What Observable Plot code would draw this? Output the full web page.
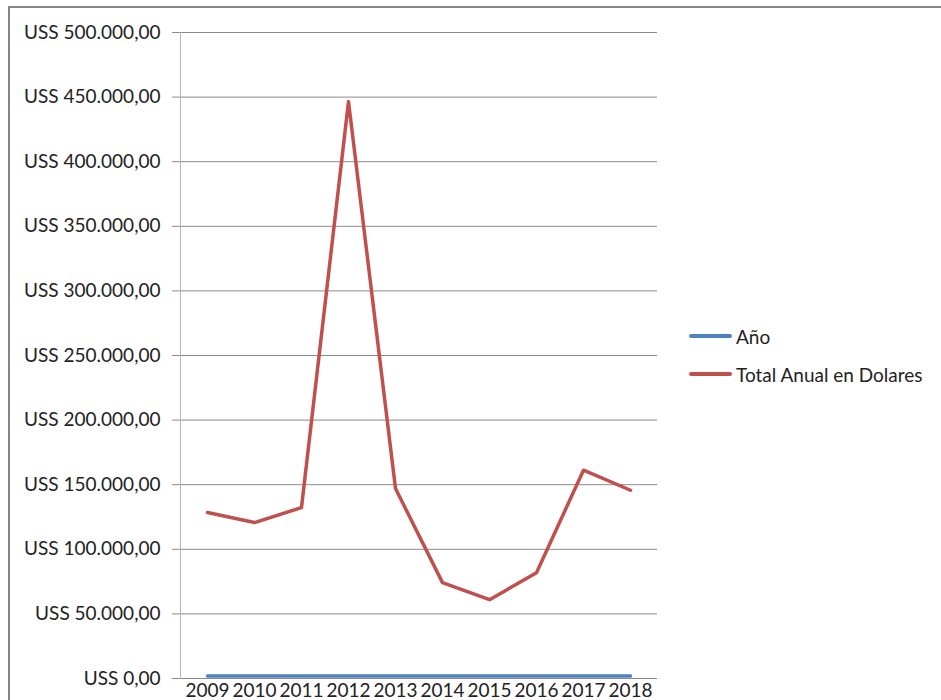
<!DOCTYPE html>
<html>
<head>
<meta charset="utf-8">
<script src="https://cdn.jsdelivr.net/npm/d3@7"></script>
<script src="https://cdn.jsdelivr.net/npm/@observablehq/plot@0.6"></script>
<style>
  html, body { margin: 0; padding: 0; background: #fff; width: 941px; height: 700px; overflow: hidden; }
  #wrap { position: relative; width: 941px; height: 700px; font-family: Lato, "Open Sans", sans-serif; }
  #border { position: absolute; left: 8px; top: 6px; width: 1200px; height: 1200px; border: 2px solid #868686; box-sizing: border-box; pointer-events: none; }
  #chart { position: absolute; left: 0; top: 0; }
  #legend { position: absolute; left: 689px; top: 322px; font-size: 19px; color: #222; }
  .item { display: flex; align-items: center; height: 28px; margin-bottom: 10px; }
  .sw { width: 43px; height: 4px; border-radius: 2px; margin-right: 4px; }
</style>
</head>
<body>
<div id="wrap">
  <div id="chart"></div>
  <div id="legend"></div>
  <div id="border"></div>
</div>
<script>
const years = ["2009","2010","2011","2012","2013","2014","2015","2016","2017","2018"];
const anio = [2009, 2010, 2011, 2012, 2013, 2014, 2015, 2016, 2017, 2018];
const total = [128450, 120700, 132300, 446500, 147050, 74200, 61000, 81900, 161200, 145700];
const yTicks = [0, 50000, 100000, 150000, 200000, 250000, 300000, 350000, 400000, 450000, 500000];
const seriesNames = ["Año", "Total Anual en Dolares"];
const seriesColors = ["#4f81bd", "#c0504d"];

const rows = [];
years.forEach((y, i) => {
  rows.push({year: y, value: anio[i], series: seriesNames[0]});
  rows.push({year: y, value: total[i], series: seriesNames[1]});
});

const loc = d3.formatLocale({decimal: ",", thousands: ".", grouping: [3], currency: ["", ""]});
const fmt = loc.format(",.2f");

const chart = Plot.plot({
  width: 941,
  height: 700,
  marginLeft: 180,
  marginRight: 284,
  marginTop: 32,
  marginBottom: 22,
  style: {fontFamily: "Lato, 'Open Sans', sans-serif", fontSize: "19px", color: "#222", background: "transparent"},
  x: {type: "point", domain: years, padding: 0.5, label: null},
  y: {domain: [0, 500000], label: null},
  color: {domain: seriesNames, range: seriesColors},
  marks: [
    Plot.ruleY(yTicks, {stroke: "#8a8a8a", strokeWidth: 1}),
    Plot.axisY({ticks: yTicks, tickSize: 8, tickPadding: 12, stroke: "#8a8a8a", tickFormat: d => "USS " + fmt(d), label: null, fontSize: 19}),
    Plot.axisX({tickSize: 0, tickPadding: 5, label: null, fontSize: 19, style: {letterSpacing: "0.3px"}}),
    Plot.frame({anchor: "left", stroke: "#b5b5b5"}),
    Plot.line(rows, {x: "year", y: "value", z: "series", stroke: "series", strokeWidth: 3.5, strokeLinecap: "round", strokeLinejoin: "round"})
  ]
});
document.getElementById("chart").appendChild(chart);

const legend = document.getElementById("legend");
seriesNames.forEach((n, i) => {
  const it = document.createElement("div");
  it.className = "item";
  const sw = document.createElement("div");
  sw.className = "sw";
  sw.style.background = seriesColors[i];
  const t = document.createElement("span");
  t.textContent = n;
  it.appendChild(sw);
  it.appendChild(t);
  legend.appendChild(it);
});
</script>
</body>
</html>
